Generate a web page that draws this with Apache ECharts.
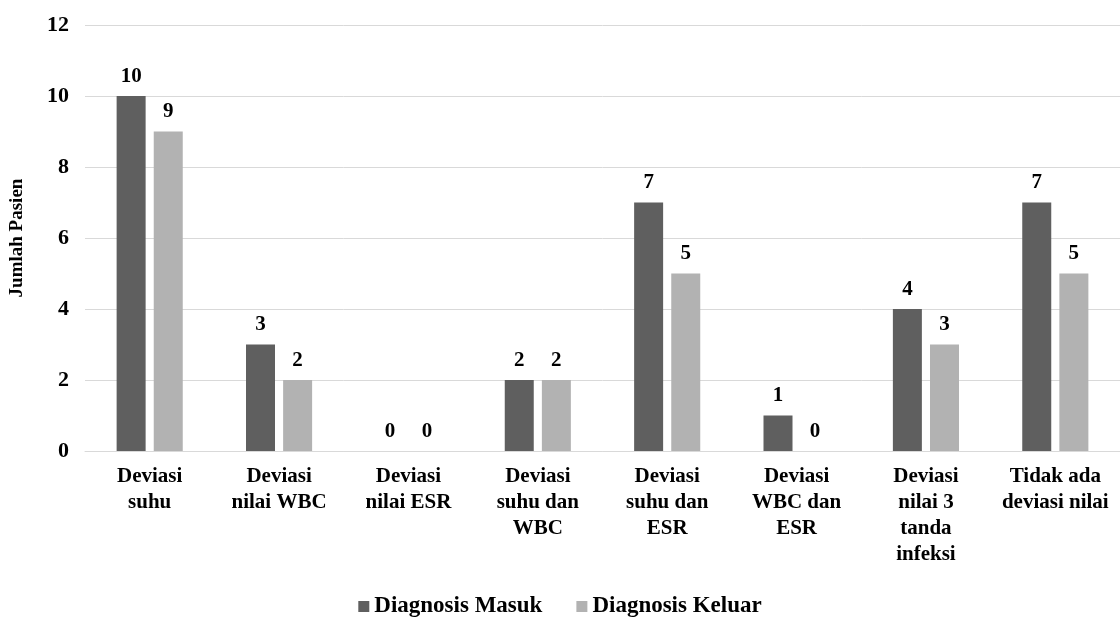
<!DOCTYPE html>
<html><head><meta charset="utf-8">
<script src="https://cdn.jsdelivr.net/npm/echarts@6/dist/echarts.min.js"></script>
<style>html,body{margin:0;padding:0;background:#fff}#c{width:1120px;height:623px}</style>
</head><body><div id="c"></div>
<script>
const categories = ["Deviasi\nsuhu", "Deviasi\nnilai WBC", "Deviasi\nnilai ESR", "Deviasi\nsuhu dan\nWBC", "Deviasi\nsuhu dan\nESR", "Deviasi\nWBC dan\nESR", "Deviasi\nnilai 3\ntanda\ninfeksi", "Tidak ada\ndeviasi nilai"];
const masuk = [10, 3, 0, 2, 7, 1, 4, 7];
const keluar = [9, 2, 0, 2, 5, 0, 3, 5];
const seriesNames = ["Diagnosis Masuk", "Diagnosis Keluar"];
const yTitle = "Jumlah Pasien";

const F = 'Times New Roman, Liberation Serif, serif';
const chart = echarts.init(document.getElementById('c'));
const lbl = {show: true, position: 'top', distance: 9, fontFamily: F, fontWeight: 'bold', fontSize: 21, color: '#000'};
chart.setOption({
  animation: false,
  textStyle: {fontFamily: F},
  grid: {left: 78, right: 0, top: 25, bottom: 172},
  legend: {
    bottom: 0, left: 'center', itemWidth: 11, itemHeight: 11, itemGap: 34, icon: 'rect',
    textStyle: {fontFamily: F, fontWeight: 'bold', fontSize: 23, color: '#000'},
    data: seriesNames
  },
  xAxis: {
    type: 'category', data: categories,
    axisLine: {lineStyle: {color: '#d9d9d9'}}, axisTick: {show: false},
    axisLabel: {interval: 0, margin: 13, fontFamily: F, fontWeight: 'bold', fontSize: 21, lineHeight: 26, color: '#000'}
  },
  yAxis: {
    type: 'value', min: 0, max: 12, interval: 2,
    name: yTitle, nameLocation: 'middle', nameGap: 58, nameRotate: 90,
    nameTextStyle: {fontFamily: F, fontWeight: 'bold', fontSize: 19, color: '#000'},
    axisLine: {show: false}, axisTick: {show: false},
    splitLine: {lineStyle: {color: '#d9d9d9'}},
    axisLabel: {margin: 16, fontFamily: F, fontWeight: 'bold', fontSize: 22, color: '#000'}
  },
  series: [
    {name: seriesNames[0], type: 'bar', data: masuk, barWidth: 29, barGap: '28%', itemStyle: {color: '#5f5f5f'}, label: lbl},
    {name: seriesNames[1], type: 'bar', data: keluar, barWidth: 29, itemStyle: {color: '#b2b2b2'}, label: lbl}
  ]
});
</script></body></html>
